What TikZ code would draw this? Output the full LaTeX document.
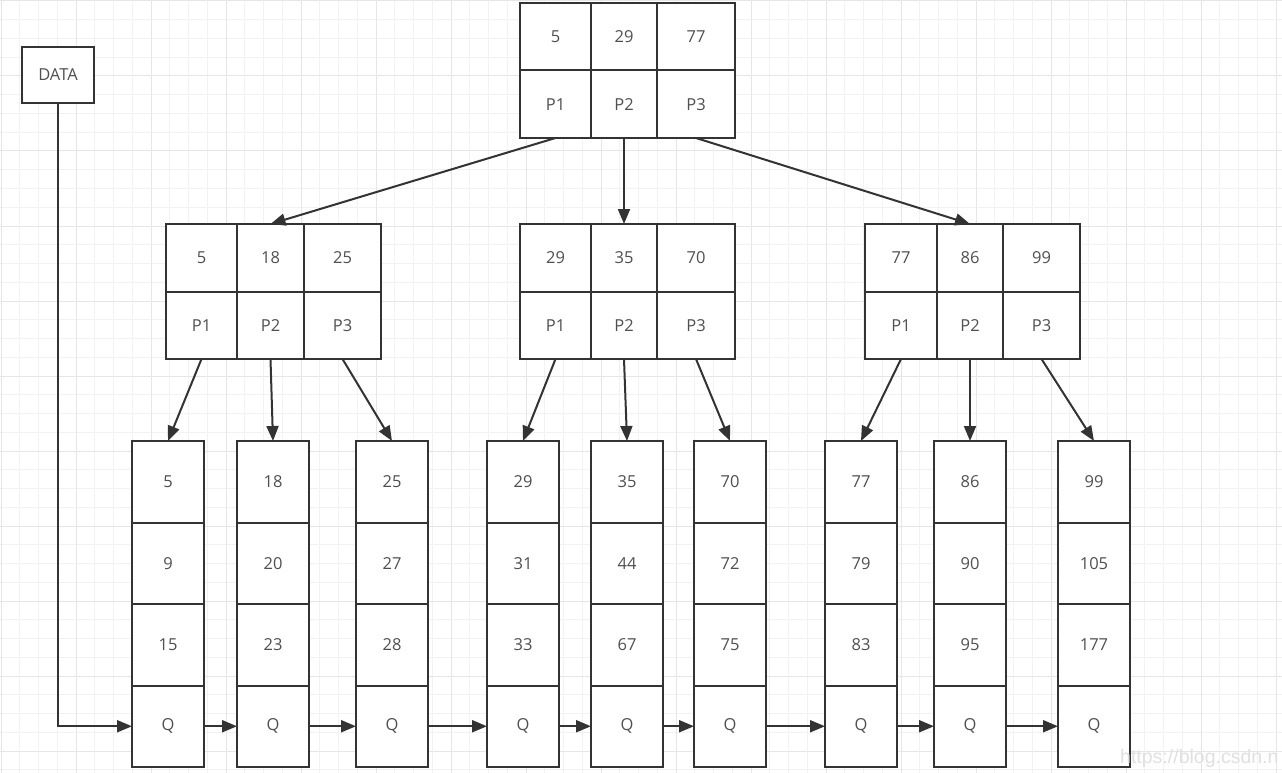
\documentclass[tikz,border=0pt]{standalone}
\usepackage{fontspec}
\setmainfont{Open Sans}
\newfontfamily\wmfont{Liberation Sans}
\usetikzlibrary{arrows.meta}
\definecolor{ln}{HTML}{333333}
\definecolor{tx}{HTML}{505050}
\definecolor{gminor}{HTML}{F2F2F2}
\definecolor{gmajor}{HTML}{E6E6E6}
\definecolor{wm}{HTML}{E0E0E0}
\tikzset{
  cell/.style={draw=ln, line width=2pt, fill=white, inner sep=0pt, outer sep=0pt,
    text=tx, font=\fontsize{16.5}{19}\selectfont},
  link/.style={draw=ln, line width=2pt, -{Triangle[length=15pt,width=12pt]}},
  gridminor/.style={draw=gminor, line width=1pt},
  gridmajor/.style={draw=gmajor, line width=1pt},
}
\newcommand\cbox[6]{\node[cell, minimum width={(#4)-(#2)}, minimum height={(#5)-(#3)}] (#1) at ({((#2)+(#4))/2},{((#3)+(#5))/2}) {#6};}
\begin{document}
\begin{tikzpicture}[x=1pt,y=-1pt]
\fill[white] (0,0) rectangle (1282,773);
\useasboundingbox (0,0) rectangle (1282,773);
% grid
\foreach \k in {0,...,68} { \draw[gridminor] ({1+18.75*\k},0) -- ({1+18.75*\k},773); }
\foreach \k in {0,...,41} { \draw[gridminor] (0,{1+18.75*\k}) -- (1282,{1+18.75*\k}); }
\foreach \k in {0,...,17} { \draw[gridmajor] ({1+75*\k},0) -- ({1+75*\k},773); }
\foreach \k in {0,...,10} { \draw[gridmajor] (0,{1+75*\k}) -- (1282,{1+75*\k}); }

% DATA
\cbox{data}{22}{47}{94}{103}{DATA}

% root
\cbox{r11}{520}{3}{591}{70.5}{5}
\cbox{r12}{591}{3}{657}{70.5}{29}
\cbox{r13}{657}{3}{735}{70.5}{77}
\cbox{r21}{520}{70.5}{591}{138}{P1}
\cbox{r22}{591}{70.5}{657}{138}{P2}
\cbox{r23}{657}{70.5}{735}{138}{P3}

% middle level
\foreach \n/\xa/\xb/\xc/\xd/\a/\b/\c in {a/166/237/304/381/5/18/25, b/520/591/657/735/29/35/70, c/865/937/1003/1080/77/86/99} {
  \cbox{m\n1}{\xa}{224}{\xb}{291.5}{\a}
  \cbox{m\n2}{\xb}{224}{\xc}{291.5}{\b}
  \cbox{m\n3}{\xc}{224}{\xd}{291.5}{\c}
  \cbox{m\n4}{\xa}{291.5}{\xb}{359}{P1}
  \cbox{m\n5}{\xb}{291.5}{\xc}{359}{P2}
  \cbox{m\n6}{\xc}{291.5}{\xd}{359}{P3}
}

% leaves
\foreach \i/\xa/\a/\b/\c in {1/132/5/9/15, 2/237/18/20/23, 3/356/25/27/28, 4/487/29/31/33, 5/591/35/44/67, 6/694/70/72/75, 7/825/77/79/83, 8/934/86/90/95, 9/1058/99/105/177} {
  \cbox{l\i a}{\xa}{441}{\xa+72}{522.5}{\a}
  \cbox{l\i b}{\xa}{522.5}{\xa+72}{604}{\b}
  \cbox{l\i c}{\xa}{604}{\xa+72}{685.5}{\c}
  \cbox{l\i q}{\xa}{685.5}{\xa+72}{767}{Q}
}

% root to middle
\draw[link] (r21.south) -- (ma2.north);
\draw[link] (r22.south) -- (mb2.north);
\draw[link] (r23.south) -- (mc2.north);

% middle to leaves
\draw[link] (ma4.south) -- (l1a.north);
\draw[link] (ma5.south) -- (l2a.north);
\draw[link] (ma6.south) -- (l3a.north);
\draw[link] (mb4.south) -- (l4a.north);
\draw[link] (mb5.south) -- (l5a.north);
\draw[link] (mb6.south) -- (l6a.north);
\draw[link] (mc4.south) -- (l7a.north);
\draw[link] (mc5.south) -- (l8a.north);
\draw[link] (mc6.south) -- (l9a.north);

% data chain
\draw[link] (data.south) |- (l1q.west);
\foreach \i/\j in {1/2,2/3,3/4,4/5,5/6,6/7,7/8,8/9} {
  \draw[link] (l\i q.east) -- (l\j q.west);
}

% watermark
\node[anchor=base west, inner sep=0pt, text=wm, font=\wmfont\fontsize{19.5}{22}\selectfont] (wmark) at (1120,763) {https://blog.csdn.n};
\end{tikzpicture}
\end{document}
